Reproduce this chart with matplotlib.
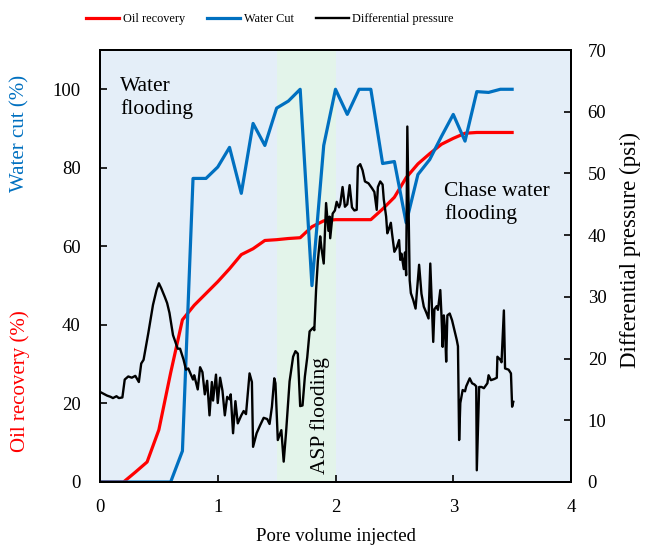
#!/usr/bin/env python3
"""Oil recovery, water cut and differential pressure vs pore volume injected."""

import matplotlib

matplotlib.use("Agg")
import matplotlib.pyplot as plt

# --- data ---
pv_wc = [0.0, 0.1, 0.2, 0.3, 0.4, 0.5, 0.6, 0.7, 0.79, 0.9, 1.0, 1.1, 1.2, 1.3,
         1.4, 1.5, 1.6, 1.7, 1.8, 1.9, 2.0, 2.1, 2.2, 2.3, 2.4, 2.5, 2.6, 2.7,
         2.8, 2.9, 3.0, 3.1, 3.2, 3.3, 3.4, 3.5]
water_cut = [0, 0, 0, 0, 0, 0, 0, 7.9, 77.3, 77.3, 80.2, 85.2, 73.5, 91.3,
             85.7, 95.2, 97.0, 100, 50.0, 85.7, 100, 93.6, 100, 100, 81.1, 81.6,
             66.0, 78.3, 82.1, 88.0, 93.6, 86.8, 99.4, 99.2, 100, 100]

pv_or = [0.0, 0.1, 0.2, 0.3, 0.4, 0.5, 0.6, 0.7, 0.8, 0.9, 1.0, 1.1, 1.2, 1.3,
         1.4, 1.5, 1.6, 1.7, 1.8, 1.9, 2.0, 2.1, 2.2, 2.3, 2.4, 2.5, 2.6, 2.7,
         2.8, 2.9, 3.0, 3.1, 3.2, 3.3, 3.4, 3.5]
oil_recovery = [0, 0, 0, 2.5, 5.1, 13.3, 27.8, 41.3, 45.0, 48.0, 51.0, 54.3,
                57.9, 59.4, 61.5, 61.7, 62.0, 62.2, 65.0, 66.5, 66.8, 66.8,
                66.8, 66.8, 69.5, 72.5, 77.5, 81.0, 83.6, 86.0, 87.5, 88.8,
                89.0, 89.0, 89.0, 89.0]

pv_dp = [0.00, 0.03, 0.06, 0.09, 0.11, 0.14, 0.16, 0.19, 0.21, 0.24, 0.27,
         0.30, 0.33, 0.35, 0.37, 0.41, 0.45, 0.48, 0.50, 0.52, 0.55, 0.57,
         0.59, 0.62, 0.66, 0.68, 0.71, 0.73, 0.75, 0.77, 0.79, 0.80, 0.83,
         0.85, 0.87, 0.89, 0.91, 0.93, 0.95, 0.96, 0.985, 1.00, 1.02, 1.04,
         1.06, 1.08, 1.10, 1.11, 1.13, 1.15, 1.17, 1.20, 1.22, 1.24, 1.27,
         1.29, 1.30, 1.33, 1.36, 1.39, 1.42, 1.44, 1.46, 1.48, 1.49, 1.51,
         1.54, 1.56, 1.58, 1.61, 1.64, 1.66, 1.68, 1.70, 1.72, 1.74, 1.76,
         1.78, 1.81, 1.82, 1.835, 1.85, 1.87, 1.88, 1.90, 1.92, 1.94, 1.95,
         1.955, 1.976, 1.995, 2.01, 2.03, 2.04, 2.06, 2.08, 2.10, 2.12, 2.14,
         2.16, 2.18, 2.19, 2.21, 2.23, 2.25, 2.28, 2.31, 2.33, 2.35, 2.36,
         2.38, 2.40, 2.41, 2.43, 2.44, 2.45, 2.47, 2.48, 2.50, 2.52, 2.54,
         2.55, 2.56, 2.58, 2.59, 2.60, 2.61, 2.63, 2.64, 2.66, 2.68, 2.71,
         2.73, 2.75, 2.77, 2.79, 2.805, 2.82, 2.83, 2.84, 2.86, 2.87, 2.89,
         2.90, 2.91, 2.92, 2.93, 2.94, 2.95, 2.97, 2.99, 3.01, 3.03, 3.04,
         3.05, 3.06, 3.08, 3.10, 3.11, 3.14, 3.16, 3.18, 3.195, 3.20, 3.22,
         3.24, 3.26, 3.29, 3.30, 3.32, 3.35, 3.37, 3.375, 3.40, 3.41, 3.43,
         3.44, 3.47, 3.49, 3.50, 3.51]
diff_pressure = [14.6, 14.3, 14.0, 13.8, 13.6, 13.9, 13.6, 13.7, 16.6, 17.1,
                 16.9, 17.2, 16.2, 19.2, 19.8, 24.1, 28.7, 31.1, 32.2, 31.4,
                 30.0, 29.0, 27.4, 23.8, 21.6, 21.6, 19.8, 18.2, 18.4, 17.5,
                 16.6, 17.3, 15.0, 18.6, 17.8, 14.2, 16.4, 10.8, 16.2, 13.2,
                 17.4, 12.8, 16.9, 14.8, 10.8, 13.8, 13.4, 14.2, 7.9, 13.1,
                 9.5, 10.8, 11.5, 11.0, 17.6, 16.2, 5.7, 7.9, 9.2, 10.4, 10.2,
                 9.4, 12.2, 16.8, 16.0, 6.8, 8.4, 3.3, 8.0, 16.3, 20.3, 21.2,
                 20.8, 12.3, 12.4, 17.1, 20.2, 24.4, 25.0, 24.6, 31.1, 35.8,
                 39.8, 38.0, 35.4, 45.2, 40.7, 43.0, 39.5, 43.5, 44.0, 45.4,
                 44.5, 45.0, 47.8, 44.6, 45.0, 48.1, 44.5, 44.0, 44.1, 51.1,
                 51.5, 50.5, 48.7, 48.4, 47.6, 47.0, 44.1, 47.8, 48.7, 48.2,
                 45.8, 43.0, 40.3, 40.8, 42.0, 40.3, 37.3, 38.0, 39.2, 36.0,
                 37.0, 34.5, 37.2, 33.5, 57.6, 32.7, 30.6, 29.5, 28.1, 35.2,
                 30.5, 28.4, 27.5, 26.5, 35.4, 28.0, 22.7, 28.0, 28.5, 27.9,
                 31.1, 27.0, 21.9, 27.0, 24.8, 19.5, 27.0, 27.3, 26.2, 24.6,
                 23.0, 22.0, 6.8, 12.8, 14.9, 14.7, 15.5, 16.8, 16.0, 15.8,
                 15.5, 1.9, 15.4, 15.4, 15.2, 16.0, 17.3, 16.5, 16.7, 16.9,
                 20.3, 19.8, 19.4, 27.8, 18.4, 18.2, 17.6, 12.2, 13.0]

asp_start, asp_end = 1.5, 2.0

RED = "#FF0000"
BLUE = "#0070C0"
BG = "#E4EEF8"
GREEN_BG = "#E3F4EA"

plt.rcParams["font.family"] = ["Liberation Serif", "DejaVu Serif"]

fig = plt.figure(figsize=(6.48, 5.46), dpi=100)
ax = fig.add_axes([100 / 648, 1 - 482 / 546, 471 / 648, 432 / 546])
ax.set_facecolor(BG)
ax.axvspan(asp_start, asp_end, color=GREEN_BG, lw=0, zorder=0)

l_or, = ax.plot(pv_or, oil_recovery, color=RED, lw=2.3, label="Oil recovery")
l_wc, = ax.plot(pv_wc, water_cut, color=BLUE, lw=2.3, label="Water Cut")
ax.set_xlim(0, 4)
ax.set_ylim(0, 110)
ax.set_xticks([0, 1, 2, 3, 4])
ax.set_yticks([0, 20, 40, 60, 80, 100])

ax2 = ax.twinx()
l_dp, = ax2.plot(pv_dp, diff_pressure, color="black", lw=1.7,
                 label="Differential pressure")
ax2.set_ylim(0, 70)
ax2.set_yticks(range(0, 71, 10))

for a in (ax, ax2):
    a.tick_params(direction="in", length=5, width=1.2, labelsize=13.5,
                  colors="black")
    for s in a.spines.values():
        s.set_linewidth(1.4)
ax.tick_params(axis="y", pad=14)
ax2.tick_params(axis="y", pad=12)
ax.tick_params(axis="x", pad=12)

ax.set_xlabel("Pore volume injected", fontsize=13.5, labelpad=9)
fig.text(630 / 648, 1 - 250 / 546, "Differential pressure (psi)",
         fontsize=16.5, rotation=90, ha="center", va="center")
fig.text(20 / 648, 1 - 133 / 546, "Water cut (%)", color=BLUE, fontsize=15,
         rotation=90, ha="center", va="center")
fig.text(20 / 648, 1 - 381 / 546, "Oil recovery (%)", color=RED, fontsize=15,
         rotation=90, ha="center", va="center")

ax.text(0.17, 103, "Water\nflooding", fontsize=15.5, ha="left", va="top",
        linespacing=1.2)
ax.text(2.92, 76.5, "Chase water\nflooding", fontsize=15.5, ha="left",
        va="top", linespacing=1.25)
ax.text(1.87, 17, "ASP flooding", fontsize=15.5, rotation=90, ha="center",
        va="center")

fig.legend(handles=[l_or, l_wc, l_dp], loc="center", ncol=3, frameon=False,
           bbox_to_anchor=(270 / 648, 1 - 19 / 546), fontsize=8.8,
           handlelength=2.7, handletextpad=0.3, columnspacing=1.8)

fig.savefig("out.png", dpi=100)
